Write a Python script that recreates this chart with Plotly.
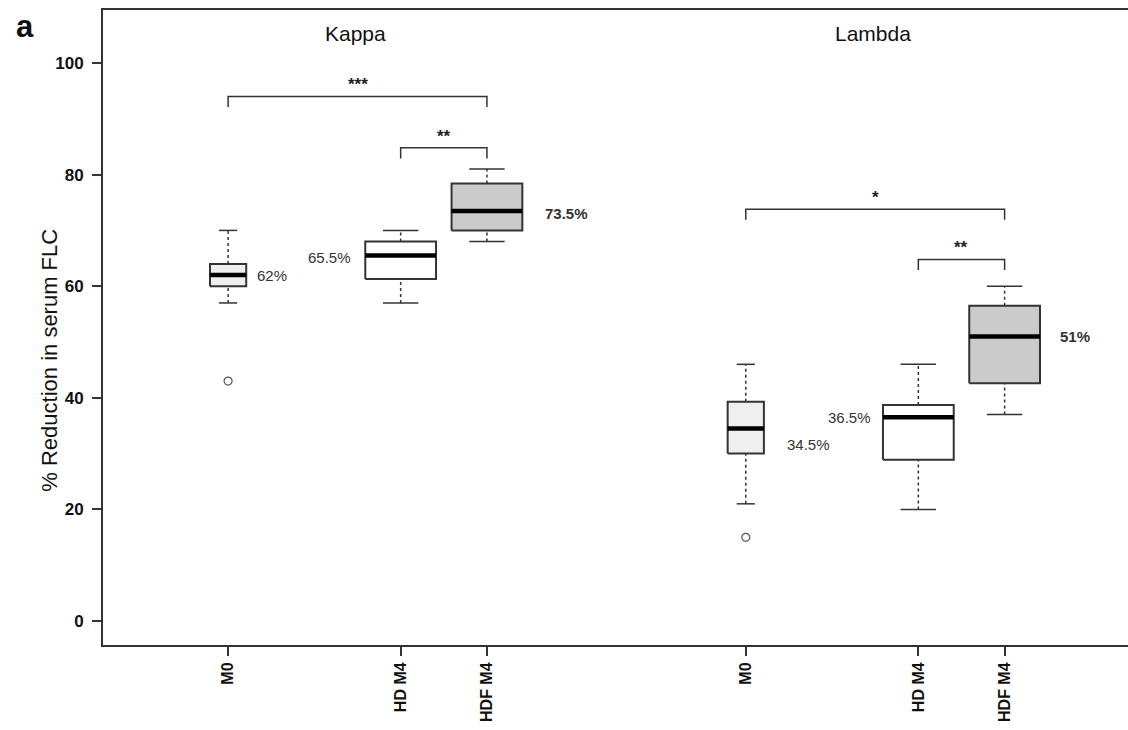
import plotly.graph_objects as go

# ---------------- data ----------------
groups = ["Kappa", "Kappa", "Kappa", "Lambda", "Lambda", "Lambda"]
categories = ["M0", "HD M4", "HDF M4", "M0", "HD M4", "HDF M4"]
whisker_low = [57, 57, 68, 21, 20, 37]
q1 = [60, 61.3, 70, 30, 28.9, 42.6]
median = [62, 65.5, 73.5, 34.5, 36.5, 51]
q3 = [64, 68, 78.4, 39.3, 38.7, 56.5]
whisker_high = [70, 70, 81, 46, 46, 60]
outliers = [[43], [], [], [15], [], []]
median_labels = ["62%", "65.5%", "73.5%", "34.5%", "36.5%", "51%"]
sig_pairs = [(0, 2, "***"), (1, 2, "**"), (3, 5, "*"), (4, 5, "**")]
y_ticks = [0, 20, 40, 60, 80, 100]

# ---------------- layout / style ----------------
xpos = [1, 3, 4, 7, 9, 10]
box_w = [0.42, 0.82, 0.82, 0.42, 0.82, 0.82]
fills = ["#efefef", "#ffffff", "#cbcbcb", "#efefef", "#ffffff", "#cbcbcb"]
label_x = [1.31, 2.45, 4.65, 7.45, 8.47, 10.62]
label_y = [62, 65.2, 73, 31.7, 36.4, 50.9]
label_anchor = ["left", "right", "left", "left", "right", "left"]
label_bold = [False, False, True, False, False, True]
sig_y = [94, 84.8, 73.8, 64.8]
sig_drop = 1.9
EDGE = "#333333"
FONT = "Liberation Sans, Arial, sans-serif"

fig = go.Figure()

# whiskers (dashed) and caps
for i in range(6):
    x = xpos[i]
    fig.add_trace(go.Scatter(
        x=[x, x, None, x, x], y=[whisker_low[i], q1[i], None, q3[i], whisker_high[i]],
        mode="lines", line=dict(color=EDGE, width=1.5, dash="3px,3px"),
        hoverinfo="skip", showlegend=False))
    hw = box_w[i] / 4
    fig.add_trace(go.Scatter(
        x=[x - hw, x + hw, None, x - hw, x + hw],
        y=[whisker_low[i], whisker_low[i], None, whisker_high[i], whisker_high[i]],
        mode="lines", line=dict(color=EDGE, width=1.5),
        hoverinfo="skip", showlegend=False))

# boxes
for i in range(6):
    x = xpos[i]
    h = box_w[i] / 2
    fig.add_trace(go.Scatter(
        x=[x - h, x + h, x + h, x - h, x - h], y=[q1[i], q1[i], q3[i], q3[i], q1[i]],
        mode="lines", fill="toself", fillcolor=fills[i],
        line=dict(color=EDGE, width=2), hoverinfo="skip", showlegend=False))
    fig.add_trace(go.Scatter(
        x=[x - h, x + h], y=[median[i], median[i]], mode="lines",
        line=dict(color="#000000", width=4.5), hoverinfo="skip", showlegend=False))

# outliers
ox, oy = [], []
for i in range(6):
    for v in outliers[i]:
        ox.append(xpos[i]); oy.append(v)
fig.add_trace(go.Scatter(
    x=ox, y=oy, mode="markers",
    marker=dict(symbol="circle-open", size=8, color="#555555", line=dict(width=1.2)),
    hoverinfo="skip", showlegend=False))

# significance brackets
for k, (a, b, s) in enumerate(sig_pairs):
    yy = sig_y[k]
    fig.add_trace(go.Scatter(
        x=[xpos[a], xpos[a], xpos[b], xpos[b]], y=[yy - sig_drop, yy, yy, yy - sig_drop],
        mode="lines", line=dict(color=EDGE, width=1.5), hoverinfo="skip", showlegend=False))
    fig.add_annotation(x=(xpos[a] + xpos[b]) / 2, y=yy, text="<b>" + s + "</b>",
                       showarrow=False, yanchor="bottom", yshift=0,
                       font=dict(family=FONT, size=17, color="#222222"))

# median labels
for i in range(6):
    t = median_labels[i]
    if label_bold[i]:
        t = "<b>" + t + "</b>"
    fig.add_annotation(x=label_x[i], y=label_y[i], text=t, showarrow=False,
                       xanchor=label_anchor[i], yanchor="middle",
                       font=dict(family=FONT, size=15, color="#333333"))

# group titles
for name, cx in [("Kappa", 2.48), ("Lambda", 8.48)]:
    fig.add_annotation(x=cx, y=105.2, text=name, showarrow=False,
                       font=dict(family=FONT, size=21, color="#111111"))

# panel letter
fig.add_annotation(xref="paper", yref="paper", x=-0.087, y=1.004, text="<b>a</b>",
                   showarrow=False, xanchor="left", yanchor="top",
                   font=dict(family=FONT, size=31, color="#111111"))

# y axis title
fig.add_annotation(xref="paper", yref="y", x=-0.066, y=46.8,
                   text="% Reduction in serum FLC", textangle=-90, showarrow=False,
                   font=dict(family=FONT, size=22, color="#111111"))

fig.update_layout(
    width=1128, height=730,
    margin=dict(l=103, r=0, t=10, b=85),
    plot_bgcolor="white", paper_bgcolor="white",
    font=dict(family=FONT, color="#111111"),
    xaxis=dict(range=[-0.45, 11.43], tickvals=xpos, ticktext=["<b>" + c + "</b>" for c in categories],
               tickangle=-90, ticks="outside", ticklen=9, tickcolor="#333333", tickwidth=1.5,
               showline=True, linecolor="#333333", linewidth=2, mirror=True,
               showgrid=False, zeroline=False, tickfont=dict(family=FONT, size=16, color="#111111")),
    yaxis=dict(range=[-4.3, 109.5], tickvals=y_ticks, ticktext=["<b>%d</b>" % v for v in y_ticks],
               ticks="outside", ticklen=9, tickcolor="#333333", tickwidth=1.5, ticklabelstandoff=5,
               showline=True, linecolor="#333333", linewidth=2, mirror=False,
               showgrid=False, zeroline=False, tickfont=dict(family=FONT, size=17, color="#111111")),
)

fig.write_html("out.html")
